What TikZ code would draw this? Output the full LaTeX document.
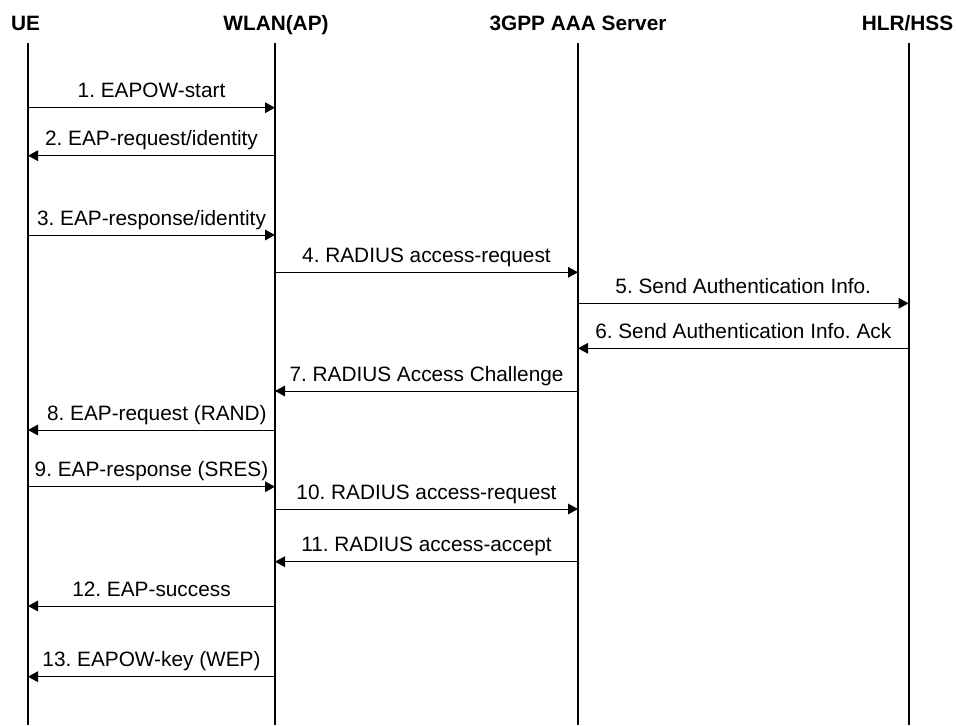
\documentclass[tikz,border=0pt]{standalone}
\usepackage{fontspec}
\setmainfont{Liberation Sans}
\usetikzlibrary{arrows.meta,positioning}
\frenchspacing

\begin{document}
\begin{tikzpicture}[
            x=0.75pt,y=-0.75pt,
            actor/.style={font=\fontsize{15.6}{18}\selectfont\bfseries,anchor=base,inner sep=0},
            lifeline/.style={draw,line width=1.5pt},
            msg/.style={draw,line width=0.75pt,-{Triangle[length=7.5pt,width=8pt]}},
            lab/.style={font=\fontsize{15.6}{18}\selectfont,anchor=base,inner sep=0,yshift=7.5pt}
          ]
          \useasboundingbox (0,0) rectangle (956,725);

          %actors
          \node[actor] (ue) at (25.5,30.7) {UE};
          \node[actor] (ap) at (276,30.7) {WLAN(AP)};
          \node[actor] (aaa) at (578,30.7) {3GPP AAA Server};
          \node[actor] (hss) at (907.5,30.7) {HLR/HSS};

          %lifelines
          \coordinate (ue top) at (28,43.3);
          \coordinate (ap top) at (275,43.3);
          \coordinate (aaa top) at (578,43.3);
          \coordinate (hss top) at (908.5,43.3);
          \path[lifeline]
          (ue top) -- (ue top |- 0,725)
          (ap top) -- (ap top |- 0,725)
          (aaa top) -- (aaa top |- 0,725)
          (hss top) -- (hss top |- 0,725)
          ;

          %messages
          \path[msg] (ue top |- 0,107.7) -- node[lab] {1. EAPOW-start} (ap top |- 0,107.7);
          \path[msg] (ap top |- 0,155.7) -- node[lab] {2. EAP-request/identity} (ue top |- 0,155.7);
          \path[msg] (ue top |- 0,235) -- node[lab] {3. EAP-response/identity} (ap top |- 0,235);
          \path[msg] (ap top |- 0,272.3) -- node[lab] {4. RADIUS access-request} (aaa top |- 0,272.3);
          \path[msg] (aaa top |- 0,303.3) -- node[lab] {5. Send Authentication Info.} (hss top |- 0,303.3);
          \path[msg] (hss top |- 0,348.3) -- node[lab] {6. Send Authentication Info. Ack} (aaa top |- 0,348.3);
          \path[msg] (aaa top |- 0,391) -- node[lab] {7. RADIUS Access Challenge} (ap top |- 0,391);
          \path[msg] (ap top |- 0,430) -- node[lab,xshift=4pt] {8. EAP-request (RAND)} (ue top |- 0,430);
          \path[msg] (ue top |- 0,486.7) -- node[lab] {9. EAP-response (SRES)} (ap top |- 0,486.7);
          \path[msg] (ap top |- 0,509) -- node[lab] {10. RADIUS access-request} (aaa top |- 0,509);
          \path[msg] (aaa top |- 0,561.7) -- node[lab] {11. RADIUS access-accept} (ap top |- 0,561.7);
          \path[msg] (ap top |- 0,606) -- node[lab] {12. EAP-success} (ue top |- 0,606);
          \path[msg] (ap top |- 0,676.7) -- node[lab] {13. EAPOW-key (WEP)} (ue top |- 0,676.7);

      \end{tikzpicture}
\end{document}
